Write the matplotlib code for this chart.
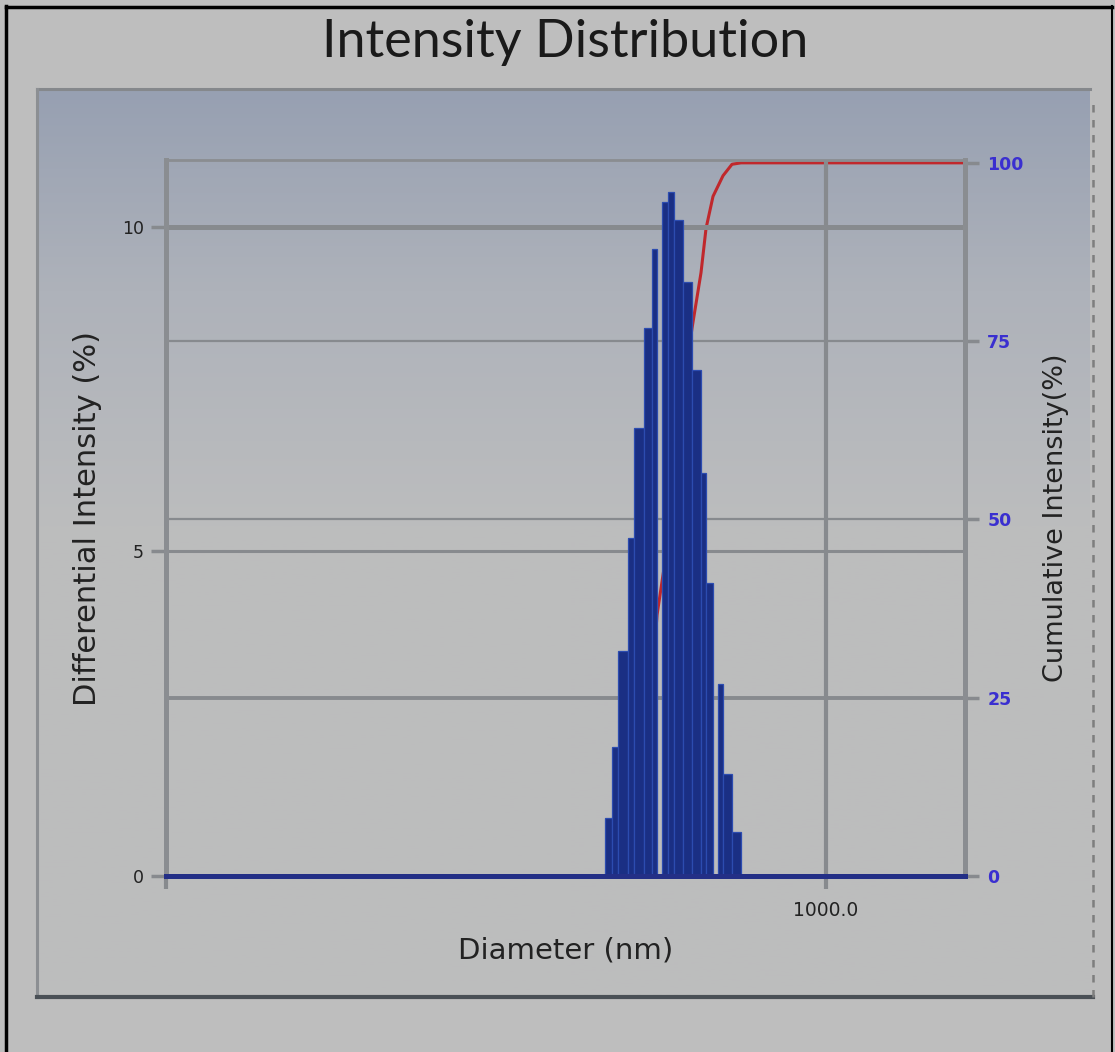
import numpy as np
import matplotlib
matplotlib.use("Agg")
import matplotlib.pyplot as plt
from matplotlib.colors import LinearSegmentedColormap

# ---------------- data ----------------
bin_left_nm = [99.2, 106.7, 113.6, 126.2, 134.4, 149.2, 162.3, 180.1, 191.8,
               204.3, 224.4, 246.6, 271.0, 285.6, 323.8, 341.3, 374.9]
bin_right_nm = [106.7, 113.6, 126.2, 134.4, 149.2, 162.3, 171.0, 191.8, 204.3,
                224.4, 246.6, 271.0, 285.6, 307.3, 341.3, 374.9, 411.9]
diff_intensity = [0.89, 1.99, 3.47, 5.21, 6.90, 8.44, 9.66, 10.39, 10.54,
                  10.11, 9.15, 7.80, 6.21, 4.51, 2.96, 1.57, 0.68]

cum_diameter_nm = [1.0, 99.2, 106.7, 113.6, 126.2, 134.4, 149.2, 162.3, 171.0,
                   191.8, 204.3, 224.4, 246.6, 271.0, 285.6, 307.3, 341.3,
                   374.9, 411.9, 4300.0]
cum_intensity = [0.0, 0.0, 0.9, 2.9, 6.4, 11.6, 18.5, 26.9, 36.6, 46.9, 57.5,
                 67.6, 76.8, 84.6, 90.8, 95.3, 98.2, 99.8, 100.0, 100.0]

x_range_nm = (1.0, 4300.0)
x_ticks = [1.0, 1000.0]
x_tick_labels = ["", "1000.0"]
left_ticks = [0, 5, 10]
right_ticks = [0, 25, 50, 75, 100]

title = "Intensity Distribution"
x_label = "Diameter (nm)"
y_label = "Differential Intensity (%)"
y2_label = "Cumulative Intensity(%)"

# ---------------- figure ----------------
W, H = 1115, 1052
fig = plt.figure(figsize=(W / 100, H / 100), dpi=100)
fig.patch.set_facecolor("#bebebe")

def fx(px):
    return px / W

def fy(py):
    return 1 - py / H

# gradient panel
pl, pr, pt, pb = 37, 1090, 89, 997
bg = fig.add_axes([fx(pl), fy(pb), fx(pr - pl), fy(pt) - fy(pb)], zorder=0)
cmap = LinearSegmentedColormap.from_list(
    "panel", [(0.0, "#97a0b2"), (0.22, "#aeb2ba"), (0.48, "#bcbdbe"), (1.0, "#bdbdbd")])
grad = np.linspace(0, 1, 400).reshape(-1, 1)
bg.imshow(grad, aspect="auto", cmap=cmap, extent=[0, 1, 0, 1], origin="upper")
bg.set_xlim(0, 1)
bg.set_ylim(0, 1)
bg.axis("off")
# panel borders
bg.plot([0, 1], [1, 1], color="#85888c", lw=2.2, transform=bg.transAxes, clip_on=False)
bg.plot([0, 0], [0, 1], color="#8c8f93", lw=2.2, transform=bg.transAxes, clip_on=False)
bg.plot([0, 1.003], [0, 0], color="#4a5056", lw=3.0, transform=bg.transAxes, clip_on=False)
bg.plot([1.003, 1.003], [0, 0.985], color="#7e7e7e", lw=1.8, ls=(0, (3, 3)),
        transform=bg.transAxes, clip_on=False)

# outer black frame
frame = fig.add_axes([0, 0, 1, 1], zorder=-1)
frame.set_xlim(0, W)
frame.set_ylim(H, 0)
frame.axis("off")
frame.plot([6, 6], [6, H], color="black", lw=2.5)
frame.plot([6, W - 3], [7, 7], color="black", lw=2.5)
frame.plot([W - 3, W - 3], [6, H], color="black", lw=1.5)

# main axes
al, ar, at, ab = 166, 965, 160, 876
ax = fig.add_axes([fx(al), fy(ab), fx(ar - al), fy(at) - fy(ab)], zorder=2)
ax.set_facecolor("none")
ax.set_xscale("log")
ax.set_xlim(*x_range_nm)
ax.set_ylim(0, 11.03)

ax2 = ax.twinx()
ax2.set_ylim(0, 100.4)

grid_c = "#878a8e"
# gridlines
for v, lw in zip([5, 10], [2.2, 3.6]):
    ax.axhline(v, color=grid_c, lw=lw, zorder=0.5)
for v, lw in zip([25, 50, 75], [2.8, 1.6, 1.6]):
    ax2.axhline(v, color=grid_c, lw=lw, zorder=0.5)
ax.axvline(x_ticks[1], color=grid_c, lw=3.0, zorder=0.5)

# cumulative line (behind the bars)
ax2.plot(cum_diameter_nm, cum_intensity, color="#c0282c", lw=2.2, zorder=1)
ax2.set_zorder(1)
ax.set_zorder(2)
ax.patch.set_visible(False)

# bars
lefts = np.array(bin_left_nm)
rights = np.array(bin_right_nm)
ax.bar(lefts, diff_intensity, width=rights - lefts, align="edge",
       color="#1a2f84", edgecolor="#2c4cb0", linewidth=0.9, zorder=3)
# baseline
ax.axhline(0, color="#232f86", lw=3.6, zorder=4, clip_on=False)

# spines
for s in ["left", "right"]:
    ax.spines[s].set_color("#8a8d91")
    ax.spines[s].set_linewidth(3.6)
ax.spines["top"].set_color("#8a8d91")
ax.spines["top"].set_linewidth(2.0)
ax.spines["bottom"].set_visible(False)
for s in ax2.spines.values():
    s.set_visible(False)

# ticks
ax.set_xticks(x_ticks)
ax.set_xticklabels(x_tick_labels)
ax.xaxis.set_minor_locator(matplotlib.ticker.NullLocator())
ax.tick_params(axis="x", direction="out", length=9, width=3, color=grid_c,
               labelsize=13.5, labelcolor="#222222", pad=9)

ax.set_yticks(left_ticks)
ax.tick_params(axis="y", direction="out", length=11, width=2.5, color=grid_c,
               labelsize=12.5, labelcolor="#222222", pad=5)
ax.yaxis.set_ticks_position("left")

ax2.set_yticks(right_ticks)
ax2.tick_params(axis="y", direction="out", length=10, width=2.5, color=grid_c,
                labelsize=12.5, labelcolor="#3a2fd0", pad=6)
for lab in ax2.get_yticklabels():
    lab.set_fontweight("bold")

# labels
lab_font = dict(family=["DejaVu Sans"], color="#222222")
ax.set_xlabel(x_label, fontsize=21, labelpad=12, **lab_font)
ax.set_ylabel(y_label, fontsize=22, labelpad=14, **lab_font)
ax2.set_ylabel(y2_label, fontsize=19.5, labelpad=14, rotation=90, **lab_font)

fig.text(0.507, fy(42), title, ha="center", va="center", fontsize=37.5,
         family=["Lato", "DejaVu Sans"], color="#1a1a1a")

fig.savefig("out.png", dpi=100, facecolor=fig.get_facecolor())
